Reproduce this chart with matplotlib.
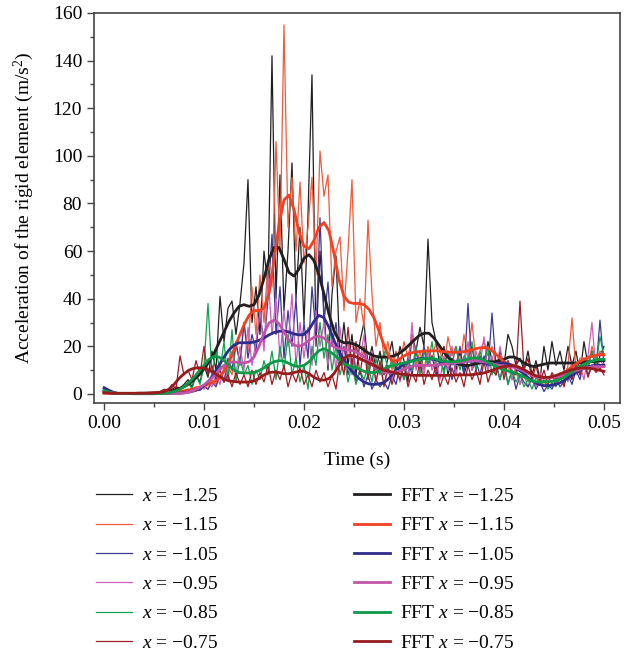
import numpy as np
import matplotlib as mpl
mpl.use('Agg')
import matplotlib.pyplot as plt

#
#--- font settings: serif text, italic x in the legend
#
mpl.rcParams['font.family'] = 'Liberation Serif'
mpl.rcParams['mathtext.fontset'] = 'custom'
mpl.rcParams['mathtext.rm'] = 'Liberation Serif'
mpl.rcParams['mathtext.it'] = 'Liberation Serif:italic'
mpl.rcParams['font.size'] = 14

#
#--- positions along the sensor line
#
positions = ['\u22121.25', '\u22121.15', '\u22121.05', '\u22120.95', '\u22120.85', '\u22120.75']

raw_colors = ['#231f20', '#f15a3a', '#3b3896', '#cc5fb8', '#11a14f', '#a01c24']
fft_colors = ['#231f20', '#ef4123', '#302c8c', '#c154a8', '#0c9a48', '#981b1e']

#
#--- raw acceleration, sampled every 0.4 ms (0 - 0.05 s)
#
raw_125 = [1.5, 1, 0.5, 0.3, 0.2, 0.2, 0.3, 0.3, 0.2, 0.2, 0.3, 0.4, 0.3, 0.5, 0.6,
           0.8, 1.2, 2, 3, 2.5, 4, 6, 3, 8, 5, 12, 7, 18, 10, 41,
           22, 36, 39, 25, 38, 55, 90, 30, 45, 25, 60, 45, 142, 40, 92,
           35, 60, 97, 40, 70, 30, 75, 134, 20, 60, 35, 10, 42, 58, 15,
           30, 12, 25, 8, 22, 30, 12, 20, 10, 18, 8, 15, 22, 10, 20,
           14, 5, 25, 18, 28, 20, 65, 30, 22, 12, 20, 8, 15, 10, 18,
           8, 14, 20, 10, 16, 12, 22, 14, 8, 18, 12, 25, 20, 12, 15,
           10, 18, 8, 14, 6, 20, 10, 22, 12, 18, 10, 20, 12, 18, 8,
           22, 12, 18, 10, 16, 20]

raw_115 = [0.5, 0.5, 0.3, 0.3, 0.2, 0.2, 0.2, 0.3, 0.3, 0.2, 0.3, 0.3, 0.4, 0.4, 0.5,
           0.5, 0.6, 0.8, 1, 1.5, 1, 2, 1.5, 3, 2, 4, 2, 6, 4, 8,
           5, 12, 8, 20, 14, 30, 18, 45, 25, 50, 30, 55, 45, 106, 60,
           155, 70, 91, 60, 89, 55, 70, 91, 50, 102, 83, 92, 45, 60, 66,
           35, 60, 90, 30, 40, 28, 73, 42, 20, 30, 15, 22, 10, 18, 12,
           22, 15, 25, 12, 18, 10, 20, 14, 22, 18, 12, 24, 16, 20, 12,
           25, 15, 30, 14, 18, 22, 16, 20, 12, 14, 8, 12, 6, 10, 4,
           8, 3, 6, 4, 7, 3, 5, 8, 4, 9, 6, 12, 32, 10, 15,
           15, 12, 20, 14, 18, 16]

raw_105 = [3, 2, 1, 0.5, 0.3, 0.2, 0.2, 0.2, 0.2, 0.2, 0.2, 0.2, 0.2, 0.2, 0.2,
           0.2, 0.2, 0.2, 0.2, 0.2, 0.5, 1, 1, 2, 1.5, 3, 2, 5, 3, 8,
           5, 15, 10, 22, 12, 30, 15, 25, 18, 35, 20, 40, 67, 25, 45,
           15, 35, 20, 40, 12, 30, 15, 45, 25, 74, 30, 47, 20, 30, 12,
           20, 8, 15, 5, 10, 3, 8, 2, 6, 3, 5, 2, 8, 4, 12,
           6, 15, 8, 18, 10, 20, 12, 16, 8, 14, 10, 18, 6, 12, 20,
           8, 38, 10, 14, 8, 16, 10, 34, 12, 6, 14, 4, 10, 2, 8,
           5, 3, 7, 2, 5, 1, 4, 2, 6, 3, 5, 8, 4, 10, 6,
           14, 8, 12, 10, 31, 12]

raw_095 = [1, 0.6, 0.3, 0.3, 0.3, 0.3, 0.3, 0.3, 0.3, 0.3, 0.3, 0.3, 0.3, 0.3, 0.3,
           0.3, 0.3, 0.3, 0.4, 0.4, 0.5, 1, 2, 1, 3, 2, 5, 3, 8, 4,
           12, 6, 18, 8, 20, 10, 28, 12, 22, 35, 18, 50, 25, 40, 15,
           35, 20, 42, 12, 30, 15, 28, 12, 35, 20, 30, 12, 25, 10, 28,
           12, 22, 8, 20, 14, 25, 8, 18, 5, 12, 4, 10, 6, 14, 5,
           12, 8, 30, 10, 15, 8, 18, 10, 14, 6, 16, 10, 20, 8, 15,
           12, 22, 10, 18, 12, 24, 10, 16, 8, 20, 10, 14, 6, 12, 4,
           10, 6, 8, 3, 9, 5, 7, 4, 8, 6, 10, 5, 14, 8, 12,
           6, 16, 30, 10, 14, 12]

raw_085 = [2, 1, 0.5, 0.3, 0.3, 0.3, 0.3, 0.3, 0.3, 0.3, 0.3, 0.3, 0.3, 0.3, 0.3,
           0.3, 0.3, 0.5, 1, 2, 3, 5, 2, 8, 4, 12, 38, 8, 18, 10,
           22, 6, 27, 5, 15, 8, 12, 4, 10, 6, 14, 8, 18, 6, 20,
           10, 25, 8, 15, 5, 12, 2, 20, 12, 30, 15, 25, 10, 20, 8,
           15, 5, 12, 4, 10, 6, 12, 5, 15, 8, 18, 10, 14, 8, 12,
           6, 14, 10, 20, 8, 18, 12, 22, 10, 16, 8, 18, 12, 20, 10,
           16, 14, 22, 10, 18, 12, 20, 8, 14, 6, 12, 4, 10, 5, 8,
           3, 6, 2, 7, 4, 6, 2, 5, 3, 7, 4, 10, 6, 12, 8,
           15, 10, 18, 12, 24, 16]

raw_075 = [0.5, 0.5, 0.5, 0.5, 0.5, 0.5, 0.5, 0.5, 0.5, 0.5, 0.5, 0.5, 0.5, 0.5, 1,
           2, 1.5, 4, 2, 16, 8, 10, 6, 14, 8, 20, 8, 12, 6, 10,
           5, 8, 3, 9, 4, 8, 3, 10, 4, 9, 5, 12, 4, 10, 6,
           12, 3, 9, 5, 11, 4, 8, 3, 10, 5, 9, 3, 8, 2, 15,
           8, 28, 12, 22, 8, 20, 6, 16, 5, 14, 3, 12, 4, 10, 6,
           12, 3, 9, 5, 14, 4, 10, 6, 12, 3, 8, 4, 11, 5, 9,
           3, 12, 6, 10, 4, 14, 5, 10, 8, 16, 6, 14, 9, 8, 39,
           10, 15, 6, 12, 5, 10, 4, 9, 6, 8, 3, 10, 6, 12, 8,
           14, 7, 12, 9, 11, 8]

#
#--- FFT filtered acceleration, sampled every 0.5 ms (0 - 0.05 s)
#
fft_125 = [1.0, 0.6, 0.3, 0.2, 0.2, 0.2, 0.2, 0.3, 0.3, 0.4, 0.5, 0.6, 0.8, 1.0, 1.5,
           2.2, 3.0, 4.2, 6.0, 8.0, 10.5, 13.5, 17.0, 21.5, 26.0, 30.5, 34.0, 36.8, 37.5, 36.8,
           37.5, 41.5, 48.5, 56.5, 61.5, 61.5, 56.5, 51.0, 49.5, 52.5, 57.0, 58.5, 56.0, 50.0, 42.0,
           33.5, 26.5, 22.5, 21.5, 21.5, 21.0, 20.0, 18.5, 17.0, 16.0, 15.5, 15.5, 15.5, 16.0, 17.0,
           18.5, 20.5, 22.5, 24.5, 25.5, 25.5, 23.5, 20.5, 17.5, 15.0, 13.5, 12.5, 12.0, 12.0, 12.5,
           13.0, 13.5, 13.5, 13.5, 14.0, 14.5, 15.5, 15.5, 14.5, 13.0, 12.0, 11.5, 12.0, 12.5, 13.0,
           13.0, 13.0, 13.0, 13.0, 13.0, 13.0, 13.5, 13.5, 13.5, 14.0, 14.0]

fft_115 = [0.3, 0.2, 0.2, 0.2, 0.2, 0.2, 0.2, 0.3, 0.3, 0.3, 0.4, 0.4, 0.5, 0.6, 0.8,
           1.0, 1.3, 1.7, 2.2, 2.8, 3.5, 4.2, 5.0, 6.5, 9.5, 13.5, 18.5, 24.0, 29.0, 33.0,
           35.0, 35.0, 36.0, 42.0, 56.0, 71.0, 81.5, 83.5, 77.5, 68.0, 62.0, 61.0, 64.5, 70.0, 72.0,
           68.5, 59.0, 48.0, 41.0, 38.5, 38.0, 38.0, 37.5, 35.5, 32.0, 26.5, 20.5, 15.5, 13.5, 14.5,
           16.0, 17.0, 17.5, 17.8, 18.0, 18.0, 18.2, 18.0, 17.8, 17.5, 17.5, 17.5, 17.8, 18.2, 18.8,
           19.3, 19.5, 19.0, 17.5, 15.5, 13.5, 12.5, 12.0, 11.2, 10.0, 8.5, 7.5, 7.0, 6.8, 6.8,
           7.2, 8.0, 9.0, 10.5, 12.0, 13.5, 14.5, 15.5, 16.0, 16.5, 16.5]

fft_105 = [2.5, 1.5, 0.6, 0.2, 0.2, 0.2, 0.1, 0.1, 0.1, 0.1, 0.1, 0.2, 0.2, 0.2, 0.3,
           0.3, 0.5, 0.8, 1.3, 2.0, 3.5, 5.5, 8.5, 12.0, 15.5, 18.5, 20.5, 21.5, 21.5, 21.5,
           21.8, 22.5, 23.5, 24.8, 25.8, 26.3, 26.5, 26.0, 25.2, 24.8, 25.0, 27.0, 30.5, 33.0, 32.0,
           28.0, 22.5, 18.0, 14.0, 11.0, 8.5, 6.5, 5.0, 4.2, 4.0, 4.2, 4.8, 6.5, 9.0, 11.0,
           12.5, 13.5, 14.2, 14.8, 15.0, 15.0, 14.5, 14.0, 13.5, 13.0, 13.0, 13.2, 13.5, 13.8, 13.8,
           13.5, 13.0, 12.5, 12.5, 12.8, 13.0, 12.5, 11.5, 10.0, 8.5, 6.5, 5.0, 4.0, 3.5, 3.5,
           3.8, 4.5, 5.5, 7.0, 8.5, 9.8, 10.8, 11.5, 12.0, 12.0, 12.0]

fft_095 = [1.0, 0.6, 0.3, 0.2, 0.2, 0.2, 0.2, 0.2, 0.2, 0.2, 0.2, 0.2, 0.2, 0.2, 0.2,
           0.2, 0.4, 0.8, 1.5, 2.5, 3.8, 5.5, 7.5, 10.0, 12.0, 13.2, 13.5, 13.2, 13.0, 13.5,
           15.5, 20.0, 25.5, 29.8, 31.0, 29.5, 26.0, 22.5, 20.5, 20.0, 20.8, 22.5, 23.8, 24.2, 23.5,
           21.5, 19.8, 19.0, 18.8, 18.5, 18.0, 17.0, 15.5, 13.5, 11.5, 10.0, 9.0, 8.8, 9.0, 9.5,
           10.5, 11.2, 11.8, 12.0, 12.0, 12.0, 12.0, 12.2, 12.5, 12.8, 13.0, 13.3, 13.5, 13.8, 14.0,
           13.8, 13.5, 13.0, 12.5, 12.0, 11.8, 11.5, 11.2, 10.5, 9.5, 8.5, 7.5, 7.0, 6.8, 6.8,
           7.0, 7.5, 8.0, 8.8, 9.5, 10.2, 10.8, 11.2, 11.5, 11.5, 11.5]

fft_085 = [1.5, 0.8, 0.3, 0.2, 0.2, 0.2, 0.2, 0.2, 0.2, 0.2, 0.2, 0.2, 0.2, 0.5, 1.0,
           1.8, 3.0, 4.8, 7.0, 9.5, 12.0, 14.5, 15.8, 15.5, 14.0, 12.0, 10.0, 9.0, 8.8, 8.8,
           9.0, 9.8, 11.0, 12.5, 13.5, 14.0, 13.8, 12.8, 11.8, 11.5, 12.0, 13.5, 16.0, 18.2, 19.0,
           18.0, 16.5, 14.5, 12.8, 11.8, 11.2, 10.5, 9.5, 9.0, 9.0, 9.5, 10.5, 11.5, 12.0, 12.5,
           13.0, 13.5, 14.0, 14.5, 14.8, 15.0, 14.8, 14.2, 13.8, 13.5, 13.5, 13.8, 14.2, 14.8, 15.2,
           15.0, 14.2, 13.0, 12.0, 11.0, 10.0, 9.5, 9.0, 8.2, 7.2, 6.0, 5.2, 5.0, 5.0, 5.2,
           5.5, 6.0, 7.0, 8.5, 10.0, 11.5, 12.5, 13.5, 14.0, 14.5, 14.5]

fft_075 = [0.5, 0.4, 0.3, 0.3, 0.3, 0.3, 0.3, 0.3, 0.3, 0.3, 0.4, 0.6, 1.0, 2.0, 4.0,
           6.5, 8.5, 10.0, 10.8, 11.0, 10.8, 10.0, 8.8, 7.5, 6.2, 5.5, 5.2, 5.0, 5.0, 5.0,
           5.5, 6.5, 8.0, 9.0, 9.2, 9.0, 8.5, 8.5, 9.0, 9.5, 9.5, 8.5, 7.0, 6.0, 5.8,
           6.5, 8.5, 12.0, 15.0, 16.2, 16.0, 15.0, 14.0, 13.0, 12.0, 10.8, 10.0, 9.5, 9.0, 8.5,
           8.2, 8.0, 7.8, 7.8, 7.8, 7.8, 7.8, 7.8, 7.8, 7.8, 8.0, 8.0, 8.0, 8.0, 8.2,
           8.5, 8.8, 9.5, 10.2, 11.0, 11.5, 11.8, 11.8, 11.2, 10.2, 9.0, 8.0, 7.2, 7.0, 7.0,
           7.5, 8.2, 9.0, 9.8, 10.5, 10.8, 11.0, 10.8, 10.5, 10.0, 9.5]

raw_data = [raw_125, raw_115, raw_105, raw_095, raw_085, raw_075]
fft_data = [fft_125, fft_115, fft_105, fft_095, fft_085, fft_075]

t_raw = np.linspace(0.0, 0.05, len(raw_125))
t_fft = np.linspace(0.0, 0.05, len(fft_125))

#
#--- plotting
#
fig = plt.figure(figsize=(6.36, 6.52), dpi=100)
ax = fig.add_axes([0.1478, 0.3819, 0.8270, 0.5982])

handles = []
for k in range(0, 6):
    p, = ax.plot(t_raw, raw_data[k], color=raw_colors[k], lw=0.9,
                 label='$x$ = ' + positions[k])
    handles.append(p)

fft_handles = []
for k in range(0, 6):
    p, = ax.plot(t_fft, fft_data[k], color=fft_colors[k], lw=2.0,
                 label='FFT $x$ = ' + positions[k])
    fft_handles.append(p)

ax.set_xlim(-0.001, 0.0516)
ax.set_ylim(-3.8, 160)
ax.set_xticks(np.arange(0, 0.051, 0.01))
ax.set_xticks(np.arange(0.005, 0.05, 0.01), minor=True)
ax.set_yticks(np.arange(0, 161, 20))
ax.set_yticks(np.arange(10, 160, 20), minor=True)
ax.xaxis.set_major_formatter(mpl.ticker.FormatStrFormatter('%.2f'))

ax.tick_params(which='major', direction='out', length=5, width=1.0, color='#444444')
ax.tick_params(which='minor', direction='out', length=3, width=1.0, color='#444444')
for sp in ax.spines.values():
    sp.set_color('#444444')
    sp.set_linewidth(1.2)

ax.set_xlabel('Time (s)', labelpad=14)
ax.set_ylabel('Acceleration of the rigid element (m/s$^2$)', labelpad=12)

fig.legend(handles + fft_handles, [h.get_label() for h in handles + fft_handles],
           ncol=2, frameon=False, loc='upper left', bbox_to_anchor=(0.124, 0.279),
           handlelength=1.85, handletextpad=0.5, columnspacing=7.0,
           labelspacing=0.6, fontsize=14)

plt.savefig('out.png', dpi=100)
plt.close('all')
